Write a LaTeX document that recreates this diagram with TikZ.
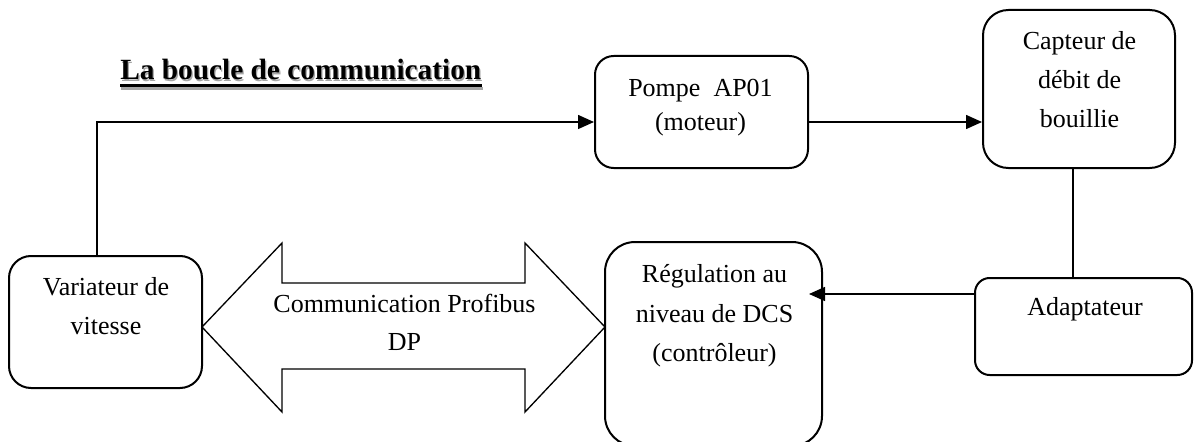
\documentclass[tikz,border=0pt]{standalone}
\usepackage{fontspec}
\setmainfont{Liberation Serif}
\usetikzlibrary{arrows.meta}
\tikzset{
  box/.style={draw, line width=1.5pt, minimum width=#1, inner sep=0pt},
  lbl/.style={align=center, inner sep=0pt, font=\fontsize{19.5pt}{29.5pt}\selectfont},
  conn/.style={line width=1.1pt},
  arr/.style={conn, -{Triangle[length=12pt,width=10.5pt]}},
  bigarrow/.style={draw, line width=1pt},
  titlefont/.style={inner sep=0pt, font=\fontsize{22pt}{26pt}\selectfont\bfseries}
}
\begin{document}
\begin{tikzpicture}[x=0.75pt,y=-0.75pt]
\useasboundingbox (0,0) rectangle (1198,442);
\clip (0,0) rectangle (1198,442);
% title with shadow and underline
\node[titlefont, text=black!35, anchor=base west] (titleshadow) at (121.3,81.3) {La boucle de communication};
\draw[black!35, line width=2.2pt] ([yshift=-5.2pt]titleshadow.base west) -- ([yshift=-5.2pt]titleshadow.base east);
\node[titlefont, anchor=base west] (title) at (120,80) {La boucle de communication};
\draw[line width=2.2pt] ([yshift=-4pt]title.base west) -- ([yshift=-4pt]title.base east);
% boxes
\node[box=144.75pt, minimum height=99pt, rounded corners=16.5pt] (var) at (105.5,322) {};
\node[box=159.75pt, minimum height=84pt, rounded corners=14pt] (pompe) at (701.5,112) {};
\node[box=144pt, minimum height=118.5pt, rounded corners=19pt] (cap) at (1079,89) {};
\node[box=162.75pt, minimum height=72.75pt, rounded corners=11pt] (ad) at (1083.5,326.5) {};
\node[box=162.75pt, minimum height=153pt, rounded corners=22.5pt] (reg) at (713.5,344) {};
% labels
\node[lbl] (varT) at (106,306) {Variateur de\\vitesse};
\node[lbl, font=\fontsize{19.5pt}{25.5pt}\selectfont] (pompeT) at (700.5,107.5) {Pompe~ AP01\\(moteur)};
\node[lbl, font=\fontsize{19.5pt}{29.25pt}\selectfont] (capT) at (1079.5,80) {Capteur de\\débit de\\bouillie};
\node[lbl] (adT) at (1085,309) {Adaptateur};
\node[lbl, font=\fontsize{19.5pt}{29.6pt}\selectfont] (regT) at (714.5,316) {Régulation au\\niveau de DCS\\(contrôleur)};
% double arrow
\draw[bigarrow] (202,327) -- (282,243) -- (282,283) -- (525,283) -- (525,243) -- (605,327)
  -- (525,412) -- (525,369) -- (282,369) -- (282,412) -- cycle;
\node[lbl, font=\fontsize{19.5pt}{28.5pt}\selectfont] (comT) at (404.5,322) {Communication Profibus\\DP};
% connectors
\draw[arr] (var.north -| 97,0) |- (pompe.west |- 0,122);
\draw[arr] (pompe.east |- 0,122) -- (cap.west |- 0,122);
\draw[conn] (cap.south -| 1073,0) -- (ad.north -| 1073,0);
\draw[arr] (ad.west |- 0,294) -- ([xshift=-10.5pt]reg.east |- 0,294);
\end{tikzpicture}
\end{document}
